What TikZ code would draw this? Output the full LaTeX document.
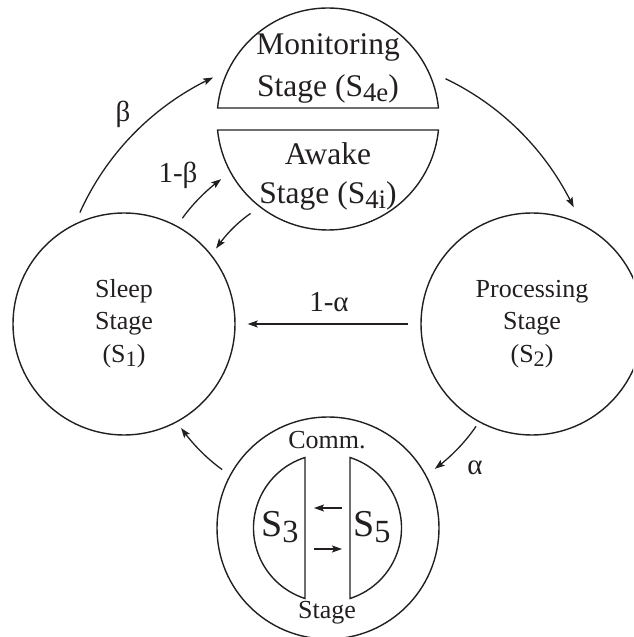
\documentclass[tikz,border=0pt]{standalone}
\usepackage{fontspec}
\setmainfont{Liberation Serif}
\usepackage{graphicx}
\usetikzlibrary{arrows.meta,bending}
\definecolor{ink}{RGB}{35,31,32}
\newcommand{\lsub}[1]{\raisebox{-0.15em}{\scalebox{0.85}{#1}}}
\begin{document}
\begin{tikzpicture}[x=1pt,y=1pt, line width=1.4pt, draw=ink,
  state/.style={circle, draw=ink, minimum size=222pt, inner sep=0pt},
  arr/.style={draw=ink, line width=1.3pt, -{Stealth[length=10pt,width=7pt,inset=2pt]}},
  big/.style={font=\fontsize{26}{30}\selectfont, text=ink, anchor=base, inner sep=0pt},
  topt/.style={font=\fontsize{31.5}{36}\selectfont, text=ink, anchor=base, inner sep=0pt},
  lab/.style={font=\fontsize{29}{33}\selectfont, text=ink, anchor=base, inner sep=0pt},
  sbig/.style={font=\fontsize{38}{42}\selectfont, text=ink, anchor=base, inner sep=0pt}]
\useasboundingbox (0,0) rectangle (633,637);
\clip (0,0) rectangle (633,637);
\coordinate (C) at (328,313);
\coordinate (topc) at (328,518);
\coordinate (inc) at (327.5,109);
% main states
\node[state] (sleep) at (124,313) {};
\node[state] (proc) at (532,313) {};
\node[state] (comm) at (328,109) {};
% split top circle
\draw (topc) ++(174.31:111) coordinate (monL) arc[start angle=174.31, end angle=5.69, radius=111] -- cycle;
\draw (topc) ++(185.69:111) coordinate (awkL) arc[start angle=185.69, end angle=354.31, radius=111] -- cycle;
% inner comm halves
\draw (inc) ++(107.7:74) coordinate (s3T) arc[start angle=107.7, end angle=252.3, radius=74] -- cycle;
\draw (inc) ++(72.3:74) coordinate (s5T) arc[start angle=72.3, end angle=-72.3, radius=74] -- cycle;
% texts
\node[topt] (mon1) at (328,582) {Monitoring};
\node[topt] (mon2) at (328,540) {Stage (S\lsub{4e})};
\node[topt] (awk1) at (328,472) {Awake};
\node[topt] (awk2) at (328,433) {Stage (S\lsub{4i})};
\node[big] (sl1) at (124,339) {Sleep};
\node[big] (sl2) at (124,307) {Stage};
\node[big] (sl3) at (124,274) {(S\lsub{1})};
\node[big] (pr1) at (532,339) {Processing};
\node[big] (pr2) at (532,307) {Stage};
\node[big] (pr3) at (532,274) {(S\lsub{2})};
\node[big] (cm1) at (327,188) {Comm.};
\node[big] (cm2) at (327,19) {Stage};
\node[sbig] (s3) at (280,100) {S\lsub{3}};
\node[sbig] (s5) at (372,100) {S\lsub{5}};
% labels
\node[lab] (la) at (329,325) {1-α};
\node[lab] (lb) at (123,515) {β};
\node[lab] (l1b) at (178,454) {1-β};
\node[lab] (lal) at (475,162) {α};
% connectors
\draw[arr, shorten <=12pt, shorten >=12pt] (proc.west) -- (sleep.east);
\path (C) ++(155.8:272) coordinate (b1);
\draw[arr] (b1) arc[start angle=155.8, end angle=115, radius=272];
\path (C) ++(64.4:272) coordinate (m1);
\draw[arr] (m1) arc[start angle=64.4, end angle=25.4, radius=272];
\path (C) ++(144:180) coordinate (ib1);
\draw[arr] (ib1) arc[start angle=144, end angle=126.4, radius=180];
\path (C) ++(125:135) coordinate (aw1);
\draw[arr] (aw1) arc[start angle=125, end angle=146, radius=135];
\path (C) ++(325.35:180) coordinate (pc1);
\draw[arr] (pc1) arc[start angle=325.35, end angle=306.4, radius=180];
\path (C) ++(234:180) coordinate (cs1);
\draw[arr] (cs1) arc[start angle=234, end angle=215.3, radius=180];
% inner arrows
\coordinate (ia1) at (342,129);
\coordinate (ia2) at (314,129);
\coordinate (ib1s) at (314,88);
\coordinate (ib2s) at (342,88);
\draw[arr] (ia1) -- (ia2);
\draw[arr] (ib1s) -- (ib2s);
\end{tikzpicture}
\end{document}
